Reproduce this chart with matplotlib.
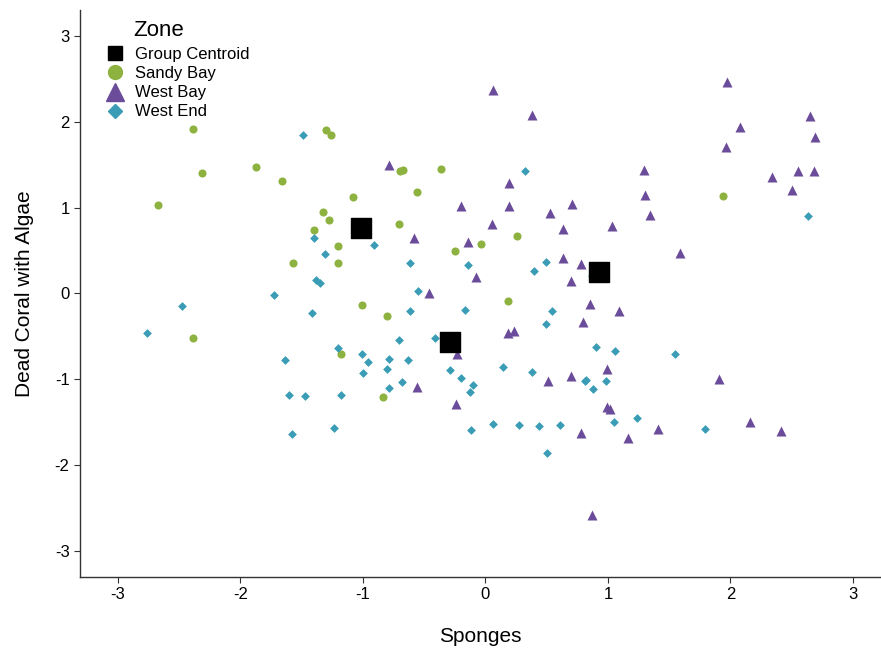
import matplotlib
matplotlib.use('Agg')
import matplotlib.pyplot as plt

#DATA

sandy_x = [-2.39, -2.67, -2.31, -1.87, -1.66, -1.30, -1.26, -1.08, -1.33, -1.28,
           -1.40, -1.20, -1.20, -1.57, -2.39, -1.18, -1.01, -0.80, -0.84, -0.70,
           -0.67, -0.36, -0.56, -0.71, -0.25, -0.04, 0.26, 0.18, 1.94]
sandy_y = [1.91, 1.03, 1.40, 1.47, 1.31, 1.90, 1.85, 1.12, 0.95, 0.86,
           0.74, 0.55, 0.35, 0.35, -0.52, -0.70, -0.13, -0.26, -1.21, 1.42,
           1.44, 1.45, 1.18, 0.81, 0.49, 0.58, 0.67, -0.09, 1.14]

westbay_x = [0.06, 0.38, -0.79, 0.19, 0.19, -0.20, 0.71, 0.53, 0.63, 0.05,
             1.03, -0.58, -0.14, -0.08, -0.46, 0.63, 0.78, 0.70, 0.85, 0.80,
             0.18, 0.23, -0.23, -0.56, -0.24, 0.51, 0.70, 0.99, 0.99, 1.02,
             0.78, 0.87, 1.09, 1.91, 1.41, 1.16, 2.16, 2.41, 1.97, 2.65,
             2.08, 2.69, 1.96, 1.29, 2.55, 2.68, 2.34, 2.50, 1.30, 1.34, 1.59]
westbay_y = [2.37, 2.08, 1.50, 1.29, 1.02, 1.02, 1.04, 0.94, 0.75, 0.81,
             0.79, 0.65, 0.60, 0.19, 0.01, 0.41, 0.34, 0.15, -0.12, -0.33,
             -0.46, -0.44, -0.70, -1.09, -1.29, -1.02, -0.96, -0.88, -1.32, -1.35,
             -1.62, -2.58, -0.20, -1.00, -1.58, -1.68, -1.50, -1.60, 2.46, 2.07,
             1.94, 1.82, 1.71, 1.44, 1.43, 1.43, 1.36, 1.20, 1.15, 0.91, 0.47]

westend_x = [-1.40, -1.31, -1.38, -1.35, -1.73, -2.48, -1.42, -2.76, -1.20, -1.64,
             -1.60, -1.47, -1.18, -1.58, -1.24, -1.49, 0.32, -0.91, -0.62, -0.14,
             0.49, 0.40, -0.55, 0.87, -0.62, -0.17, 0.54, 0.49, -0.71, -0.41,
             -1.01, -0.96, -0.79, -0.63, -1.00, -0.80, -0.68, -0.79, -0.29, -0.20,
             -0.10, -0.13, 0.14, 0.38, 0.90, 0.81, 0.82, 0.98, 0.88, -0.12,
             0.06, 0.27, 0.44, 0.61, 0.50, 1.06, 1.55, 1.05, 1.24, 1.79, 2.63]
westend_y = [0.64, 0.46, 0.16, 0.12, -0.02, -0.15, -0.23, -0.46, -0.64, -0.78,
             -1.18, -1.19, -1.18, -1.64, -1.57, 1.85, 1.43, 0.56, 0.35, 0.33,
             0.37, 0.26, 0.03, 0.20, -0.20, -0.19, -0.20, -0.36, -0.54, -0.52,
             -0.70, -0.80, -0.76, -0.78, -0.93, -0.88, -1.03, -1.10, -0.89, -0.98,
             -1.06, -1.15, -0.85, -0.91, -0.62, -1.02, -1.01, -1.02, -1.11, -1.59,
             -1.52, -1.53, -1.54, -1.53, -1.86, -0.67, -0.70, -1.50, -1.45, -1.58, 0.90]

centroid_x = [-1.02, 0.93, -0.29]
centroid_y = [0.76, 0.25, -0.57]

ticks = [-3, -2, -1, 0, 1, 2, 3]
zone_labels = ['Group Centroid', 'Sandy Bay', 'West Bay', 'West End']

#COLOURS
green = '#8db23f'
purple = '#6b4c9a'
teal = '#3a9db5'

#PLOTTING
plt.rcParams['font.family'] = ['Liberation Sans', 'DejaVu Sans']
plt.rcParams['axes.unicode_minus'] = False

fig = plt.figure(figsize=(8.81, 6.48), dpi=100)
ax = fig.add_axes([0.0908, 0.1096, 0.908, 0.875])

ax.scatter(centroid_x, centroid_y, marker='s', s=190, color='black', zorder=4)
ax.scatter(sandy_x, sandy_y, marker='o', s=34, color=green, linewidths=0, zorder=3)
ax.scatter(westbay_x, westbay_y, marker='^', s=52, color=purple, linewidths=0, zorder=3)
ax.scatter(westend_x, westend_y, marker='D', s=20, color=teal, linewidths=0, zorder=3)

ax.set_xlim(-3.31, 3.22)
ax.set_ylim(-3.30, 3.30)
ax.set_xticks(ticks)
ax.set_yticks(ticks)
ax.tick_params(labelsize=12, length=4, color='#333333', labelcolor='black')

ax.spines['top'].set_visible(False)
ax.spines['right'].set_visible(False)
for s in ['left', 'bottom']:
    ax.spines[s].set_color('#333333')
    ax.spines[s].set_linewidth(1.0)

ax.set_xlabel('Sponges', fontsize=15, labelpad=18)
ax.set_ylabel('Dead Coral with Algae', fontsize=15, labelpad=15)

#legend: manual title + entries
handles = [
    plt.Line2D([], [], marker='s', color='black', linestyle='', markersize=10),
    plt.Line2D([], [], marker='o', color=green, linestyle='', markersize=10),
    plt.Line2D([], [], marker='^', color=purple, linestyle='', markersize=13),
    plt.Line2D([], [], marker='D', color=teal, linestyle='', markersize=7),
]
ax.legend(handles, zone_labels, loc='upper left',
          bbox_to_anchor=(106.5 / 881, 1 - 47 / 648), bbox_transform=fig.transFigure,
          frameon=False, fontsize=12, handlelength=1.0, handletextpad=0.7,
          labelspacing=0.25, borderpad=0, borderaxespad=0)
fig.text(133 / 881, 1 - 30 / 648, 'Zone', fontsize=16, va='center', ha='left')

fig.savefig('out.png', dpi=100)
plt.close(fig)
